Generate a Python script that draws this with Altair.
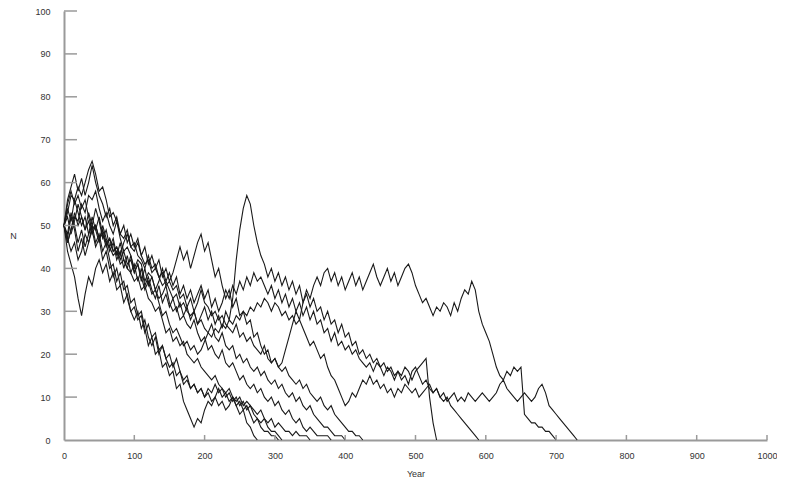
import altair as alt
import pandas as pd

STEP = 5  # years between readings

T1 = [50,47,52,49,44,47,43,46,49,45,47,42,44,40,41,37,39,35,36,32,33,29,30,26,22,24,20,21,17,18,15,16,12,13,9,7,5,3,5,4,7,9,8,10,8,9,7,8,10,8,6,7,4,3,1,0]
T2 = [50,54,51,56,53,50,52,48,50,46,48,44,46,42,38,40,36,37,33,30,31,28,29,25,27,24,25,21,22,19,20,17,19,16,14,15,12,13,11,12,10,11,9,10,12,10,11,9,10,8,9,7,8,6,4,5,3,2,2,1,1,0]
T3 = [50,44,41,38,33,29,34,38,36,40,42,39,41,37,39,35,36,32,34,30,28,30,26,28,24,22,24,20,22,19,17,18,15,16,13,14,12,13,11,12,10,12,11,13,11,12,10,11,9,10,8,9,7,8,6,5,4,5,3,2,2,1,0]
T4 = [50,55,58,55,57,54,56,52,49,50,47,49,46,45,43,44,41,42,40,39,37,38,35,36,33,32,30,31,28,25,26,23,24,22,23,20,19,18,19,17,16,15,14,15,13,12,11,12,10,9,10,8,9,8,7,6,7,5,4,5,3,4,3,2,2,1,2,1,1,1,0]
T5 = [50,46,49,52,51,55,53,57,56,58,54,51,53,50,48,51,47,44,45,43,40,42,41,37,39,38,35,33,34,36,32,30,31,28,29,27,26,28,25,23,24,21,22,20,19,21,18,17,18,16,14,15,13,12,13,11,12,10,9,10,8,9,7,6,7,5,4,5,3,2,3,2,1,1,1,1,0]
T6 = [50,53,57,56,59,57,60,63,65,62,58,59,56,52,53,51,48,47,49,45,44,46,43,41,42,39,40,38,36,37,35,33,34,31,32,30,29,30,27,28,26,25,27,24,23,25,22,21,22,19,20,18,19,17,16,17,15,16,14,13,14,12,13,11,10,11,9,10,8,7,8,6,5,4,3,3,2,1,1,1,0]
T7 = [50,47,44,46,42,44,48,46,50,49,52,48,46,47,44,45,43,46,48,45,46,43,42,40,43,40,41,38,39,36,37,35,36,33,34,31,33,30,32,35,32,31,29,30,28,29,27,26,25,27,24,25,23,24,22,21,20,22,19,18,19,17,16,17,15,14,13,14,12,13,11,10,9,10,8,7,8,6,5,4,3,2,2,1,1,0]
T8 = [50,52,48,51,55,52,49,53,50,54,51,47,49,45,47,43,46,42,40,43,39,41,37,40,36,38,35,37,40,37,39,36,38,34,36,33,35,32,34,36,33,35,31,33,30,32,35,33,36,34,37,35,38,36,39,37,38,36,34,36,33,35,32,34,31,33,30,32,29,31,28,30,27,28,25,26,23,25,22,23,21,22,20,21,19,18,17,18,16,18,17,15,17,16,14,16,15,17,16,14,16,17,18,19,10,4,0]
T9 = [50,48,53,50,46,49,45,48,52,49,46,50,47,44,46,42,44,40,43,39,41,37,40,36,38,35,33,36,32,34,31,33,30,32,29,31,28,30,27,29,31,28,30,27,29,26,30,28,33,42,49,54,57,55,50,46,43,41,38,40,37,39,36,38,35,37,34,36,32,34,31,33,30,31,28,30,27,28,25,27,24,25,22,23,20,21,19,20,18,19,17,18,16,17,15,16,14,15,13,16,17,15,13,14,12,11,12,10,9,10,8,7,6,5,4,3,2,1,0]
T10 = [50,56,59,62,58,61,57,60,64,60,57,55,52,54,50,52,48,50,46,48,45,47,43,45,41,43,40,42,38,40,37,39,42,45,42,44,40,43,46,48,44,46,42,38,40,36,33,35,31,33,29,30,27,28,24,25,22,20,21,18,19,17,18,21,24,27,30,28,32,35,33,36,38,36,39,40,37,39,36,38,35,37,39,36,38,35,37,39,41,38,36,38,40,37,39,36,38,40,41,39,36,34,32,33,31,29,31,30,32,31,29,32,30,33,35,34,37,35,30,27,25,23,20,17,15,14,16,15,17,16,17,6,5,4,4,3,3,2,2,1,0]
T11 = [50,46,49,53,50,52,49,51,48,50,47,48,45,47,44,45,42,44,41,42,39,41,38,35,37,34,35,32,29,30,27,25,26,24,22,23,21,22,20,21,23,25,24,26,25,27,26,28,27,29,28,30,29,31,30,32,31,33,32,30,32,31,29,30,28,29,27,28,26,24,22,23,21,19,20,17,15,14,12,10,8,9,11,10,12,14,13,15,13,14,12,13,11,12,10,12,11,13,12,11,12,10,11,12,13,11,12,10,11,9,10,11,9,10,9,11,10,9,10,11,10,9,10,11,13,14,12,11,10,9,10,11,10,9,10,12,13,11,8,7,6,5,4,3,2,1,0]

RUNS = [T1, T2, T3, T4, T5, T6, T7, T8, T9, T10, T11]

Y_TICKS = [0, 10, 20, 30, 40, 50, 60, 70, 80, 90, 100]
X_TICKS = [0, 100, 200, 300, 400, 500, 600, 700, 800, 900, 1000]

rows = []
for r, series in enumerate(RUNS):
    for i, v in enumerate(series):
        rows.append({"run": r, "Year": i * STEP, "N": v})
df = pd.DataFrame(rows)

W, H = 703, 429
xs = alt.Scale(domain=[0, 1000], nice=False, zero=False)
ys = alt.Scale(domain=[0, 100], nice=False)

x_axis = alt.Axis(values=X_TICKS, format="d", tickSize=0, labelPadding=11, labelFlush=False,
                  title="Year", titleY=33, titleBaseline="middle", grid=False)
y_axis = alt.Axis(values=Y_TICKS, format="d", tickSize=0, labelPadding=14, labelFlush=False,
                  title="N", titleAngle=0, titleX=-51, titleY=224, titleAlign="center",
                  titleBaseline="middle", grid=False)

lines = alt.Chart(df).mark_line(color="#1a1a1a", strokeWidth=1.1, interpolate="linear").encode(
    x=alt.X("Year:Q", scale=xs, axis=x_axis, title="Year"),
    y=alt.Y("N:Q", scale=ys, axis=y_axis, title="N"),
    detail="run:N",
)

ytick_df = pd.DataFrame({"N": Y_TICKS[1:]})
xtick_df = pd.DataFrame({"Year": X_TICKS[1:]})

yticks = alt.Chart(ytick_df).mark_rule(color="#9a9a9a", strokeWidth=1.5).encode(
    y=alt.Y("N:Q", scale=ys, axis=y_axis, title="N"),
    x=alt.value(0), x2=alt.value(13),
)
xticks = alt.Chart(xtick_df).mark_rule(color="#9a9a9a", strokeWidth=1.5).encode(
    x=alt.X("Year:Q", scale=xs, axis=x_axis, title="Year"),
    y=alt.value(H), y2=alt.value(H - 5),
)

chart = alt.layer(lines, yticks, xticks).properties(
    width=W, height=H,
    autosize=alt.AutoSizeParams(type="none"),
    padding={"left": 56, "top": 3, "right": 10, "bottom": 40},
).configure_view(stroke=None).configure_axis(
    domainColor="#9a9a9a", domainWidth=2,
    labelFont="Liberation Sans", labelFontSize=9, labelColor="#333",
    titleFont="Liberation Sans", titleFontSize=9, titleColor="#333", titleFontWeight="normal",
)

chart.save("out.html", embed_options={"renderer": "svg", "actions": False})
